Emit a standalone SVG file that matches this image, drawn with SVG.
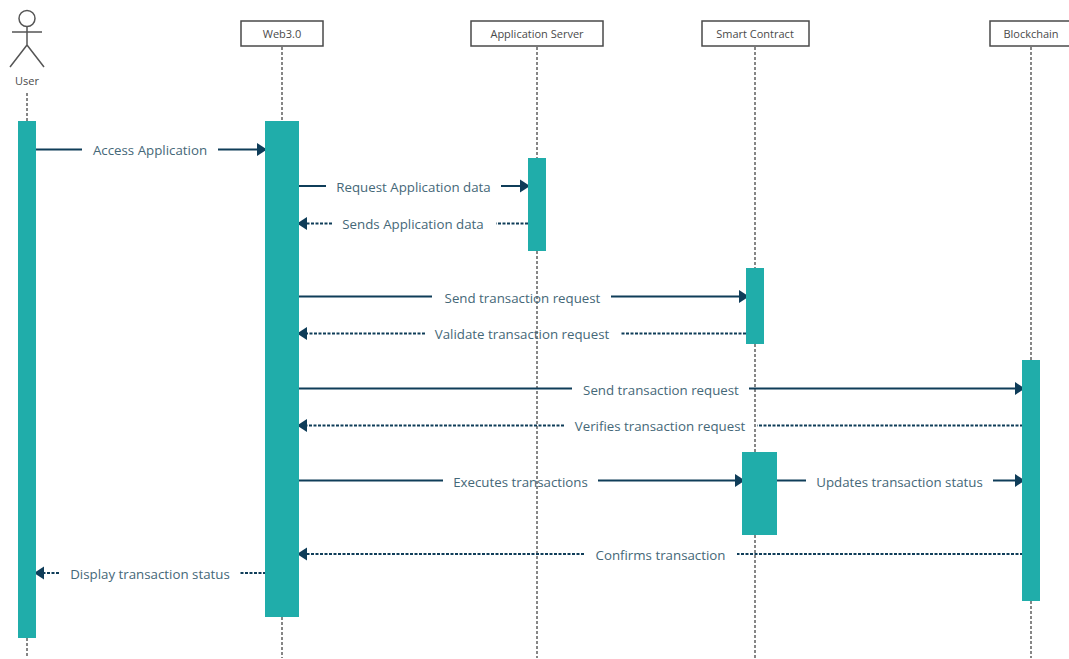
<svg xmlns="http://www.w3.org/2000/svg" width="1069" height="659" viewBox="0 0 1069 659">
<style>
.life{stroke:#5f5f5f;stroke-width:1.5;stroke-dasharray:3 2;fill:none}
.box{fill:#fff;stroke:#4a4a4a;stroke-width:1.5}
.act{fill:#20adaa}
.actor{fill:none;stroke:#555;stroke-width:1.5}
.name{font-family:"Open Sans",sans-serif;font-size:11px;fill:#4a4a4a;text-anchor:middle}
.lbl{font-family:"Open Sans",sans-serif;font-size:13.300px;fill:#456878;text-anchor:middle}
.m{stroke:#0f3d59;stroke-width:2;fill:none}
.d{stroke:#0f3d59;stroke-width:2;stroke-dasharray:3 1.500;fill:none}
</style>
<defs>
<marker id="ah" markerUnits="userSpaceOnUse" markerWidth="11" markerHeight="14" refX="10" refY="7" orient="auto"><path d="M0 0.500L10 7L0 13.500z" fill="#0f3d59"/></marker>
</defs>
<g id="lifelines">
<path class="life" d="M27 93V121M27 638V658"/>
<path class="life" d="M282 47V121M282 617V658"/>
<path class="life" d="M537 47V158M537 251V658"/>
<path class="life" d="M755 47V268M755 344V452M755 535V658"/>
<path class="life" d="M1031 47V360M1031 601V658"/>
</g>
<g id="connectors">
<path class="m" d="M35 149.500H82"/><path class="m" d="M218 149.500H267" marker-end="url(#ah)"/>
<path class="m" d="M298 186H326"/><path class="m" d="M501 186H530" marker-end="url(#ah)"/>
<path class="d" d="M332 223.500H297" marker-end="url(#ah)"/><path class="d" d="M528 223.500H496"/>
<path class="m" d="M298 296.500H432"/><path class="m" d="M611 296.500H749" marker-end="url(#ah)"/>
<path class="d" d="M425 333.500H297" marker-end="url(#ah)"/><path class="d" d="M746 333.500H621"/>
<path class="m" d="M298 388.500H572"/><path class="m" d="M749 388.500H1025" marker-end="url(#ah)"/>
<path class="d" d="M564 425.500H297" marker-end="url(#ah)"/><path class="d" d="M1023 425.500H757"/>
<path class="m" d="M298 480.500H443"/><path class="m" d="M598 480.500H745" marker-end="url(#ah)"/>
<path class="m" d="M776 480.500H806"/><path class="m" d="M993 480.500H1025" marker-end="url(#ah)"/>
<path class="d" d="M584 554H297" marker-end="url(#ah)"/><path class="d" d="M1023 554H737"/>
<path class="d" d="M59 573H34" marker-end="url(#ah)"/><path class="d" d="M266 573H240"/>
</g>
<g id="user">
<circle class="actor" cx="27" cy="18.500" r="8"/>
<path class="actor" d="M27 26.500V45M12 32H42M27 45L10 67M27 45L44 67"/>
<text class="name" x="27" y="85">User</text>
<rect class="act" x="18" y="121" width="18" height="517"/>
</g>
<g id="web3">
<rect class="box" x="241" y="21" width="82" height="25"/>
<text class="name" x="282" y="38">Web3.0</text>
<rect class="act" x="265" y="121" width="34" height="496"/>
</g>
<g id="appserver">
<rect class="box" x="471" y="21" width="132" height="25"/>
<text class="name" x="537" y="38">Application Server</text>
<rect class="act" x="528" y="158" width="18" height="93"/>
</g>
<g id="contract">
<rect class="box" x="702" y="21" width="107" height="25"/>
<text class="name" x="755" y="38">Smart Contract</text>
<rect class="act" x="746" y="268" width="18" height="76"/>
<rect class="act" x="742" y="452" width="35" height="83"/>
</g>
<g id="blockchain">
<rect class="box" x="990" y="21" width="82" height="25"/>
<text class="name" x="1031" y="38">Blockchain</text>
<rect class="act" x="1022" y="360" width="18" height="241"/>
</g>
<g id="labels">
<text class="lbl" x="150" y="155">Access Application</text>
<text class="lbl" x="413.500" y="192">Request Application data</text>
<text class="lbl" x="413" y="229">Sends Application data</text>
<text class="lbl" x="522.500" y="303">Send transaction request</text>
<text class="lbl" x="522" y="339">Validate transaction request</text>
<text class="lbl" x="661" y="395">Send transaction request</text>
<text class="lbl" x="660" y="431">Verifies transaction request</text>
<text class="lbl" x="520.500" y="487">Executes transactions</text>
<text class="lbl" x="899.500" y="487">Updates transaction status</text>
<text class="lbl" x="660.500" y="560">Confirms transaction</text>
<text class="lbl" x="150" y="579">Display transaction status</text>
</g>
</svg>
